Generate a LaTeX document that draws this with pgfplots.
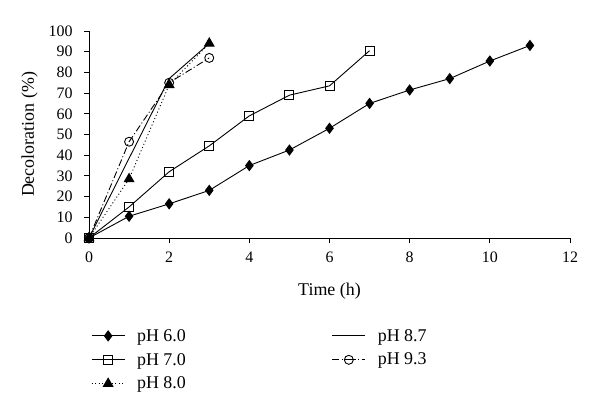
\documentclass[border=0pt]{standalone}
\usepackage{pgfplots}
\pgfplotsset{compat=1.18}
\usepackage{fontspec}
\setmainfont{Liberation Serif}
\begin{document}
\begin{tikzpicture}[x=1bp,y=1bp]
\path[use as bounding box] (0,0) rectangle (600,415);
\begin{axis}[
  at={(89bp,177bp)}, anchor=south west,
  scale only axis, width=481bp, height=207bp,
  xmin=0, xmax=12, ymin=0, ymax=100,
  xtick={0,2,...,12}, ytick={0,10,...,100},
  axis x line*=bottom, axis y line*=left,
  axis line style={line width=0.9bp},
  tick align=outside, tick style={black, line width=0.9bp},
  major tick length=5bp,
  /pgf/number format/assume math mode=true,
  tick label style={font=\fontsize{16}{18}\selectfont},
  xticklabel style={yshift=-5bp},
  yticklabel style={xshift=-8bp},
  label style={font=\fontsize{18}{20}\selectfont},
  xlabel={Time (h)}, ylabel={Decoloration (\%)},
  xlabel style={yshift=-14bp},
  ylabel style={yshift=4bp},
  clip=false,
  legend columns=2,
  legend cell align=left,
  legend style={draw=none, at={(-1bp,-87bp)}, anchor=north west,
    font=\fontsize{18}{20}\selectfont, row sep=6.5bp,
    /tikz/every odd column/.append style={column sep=10bp},
    /tikz/every even column/.append style={column sep=144bp}},
  legend image code/.code={\draw[#1] (0bp,0bp) -- (16.5bp,0bp) plot coordinates {(16.5bp,0bp)} -- (33bp,0bp);},
]
\addplot[black, line width=0.9bp, mark=diamond*, mark size=5bp] coordinates {
(0,0) (1,10.5) (2,16.5) (3,23) (4,35) (5,42.5) (6,53) (7,65) (8,71.5) (9,77) (10,85.5) (11,93)};
\addlegendentry{pH 6.0}
\addplot[black, line width=0.9bp, no marks] coordinates {(0,0) (1,38.5) (2,77) (3,94)};
\addlegendentry{pH 8.7}
\addplot[black, line width=0.9bp, mark=square, mark size=4.5bp, mark options={solid, fill=white}] coordinates {
(0,0) (1,15) (2,32) (3,44.5) (4,59) (5,69) (6,73.5) (7,90.5)};
\addlegendentry{pH 7.0}
\addplot[black, line width=0.9bp, dash pattern=on 7bp off 2.5bp on 1bp off 2.5bp, mark=o, mark size=4.5bp, mark options={solid, fill=white}] coordinates {
(0,0) (1,46.5) (2,75) (3,87)};
\addlegendentry{pH 9.3}
\addplot[black, line width=0.9bp, dash pattern=on 1bp off 2.5bp, mark=triangle*, mark size=5.5bp, mark options={solid}] coordinates {
(0,0) (1,28.5) (2,74) (3,94)};
\addlegendentry{pH 8.0}
\end{axis}
\end{tikzpicture}
\end{document}
